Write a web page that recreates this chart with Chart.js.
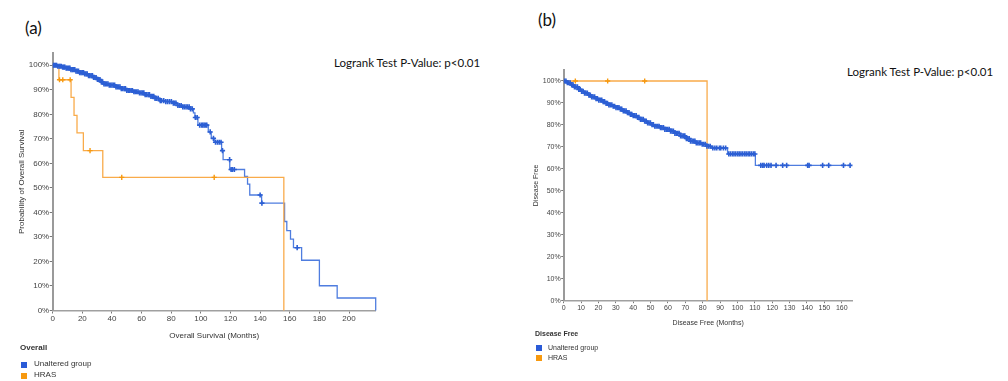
<!DOCTYPE html>
<html>
<head>
<meta charset="utf-8">
<script src="https://cdn.jsdelivr.net/npm/chart.js@4.4.1/dist/chart.umd.min.js"></script>
<style>
  body { margin: 0; background: #fff; width: 1008px; height: 381px; position: relative; overflow: hidden;
         font-family: "Liberation Sans", Arial, sans-serif; }
  canvas { position: absolute; }
  .tag { position: absolute; font-family: Lato, "Open Sans", sans-serif; font-size: 17px; line-height: 20px; color: #111; }
  .logrank { position: absolute; font-family: Lato, "Open Sans", sans-serif; font-size: 11.5px; line-height: 14px; color: #111; white-space: nowrap; }
  .leg { position: absolute; color: #333; white-space: nowrap; line-height: 10px; }
  .sq { position: absolute; width: 6px; height: 6px; }
</style>
</head>
<body>

<div class="tag" style="left:25px;top:18px">(a)</div>
<div class="tag" style="left:538px;top:10px">(b)</div>
<div class="logrank" style="left:334px;top:56px">Logrank Test P-Value: p&lt;0.01</div>
<div class="logrank" style="left:847px;top:65px">Logrank Test P-Value: p&lt;0.01</div>

<canvas id="os" width="390" height="310" style="left:0;top:40px"></canvas>
<canvas id="dfs" width="345" height="280" style="left:520px;top:55px"></canvas>

<!-- legends -->
<div class="leg" style="left:20px;top:343px;font-size:8px;font-weight:bold">Overall</div>
<div class="sq" style="left:21px;top:362px;background:#2a5bd7"></div>
<div class="leg" style="left:34px;top:359px;font-size:8px">Unaltered group</div>
<div class="sq" style="left:21px;top:373px;background:#f7990f"></div>
<div class="leg" style="left:34px;top:370px;font-size:8px">HRAS</div>

<div class="leg" style="left:535px;top:329px;font-size:7px;font-weight:bold">Disease Free</div>
<div class="sq" style="left:536px;top:345px;background:#2a5bd7"></div>
<div class="leg" style="left:548px;top:343px;font-size:7px">Unaltered group</div>
<div class="sq" style="left:536px;top:355px;background:#f7990f"></div>
<div class="leg" style="left:548px;top:353px;font-size:7px">HRAS</div>

<script>
// tick labels
const pctTicks = [0, 10, 20, 30, 40, 50, 60, 70, 80, 90, 100];
const osMonthTicks = [0, 20, 40, 60, 80, 100, 120, 140, 160, 180, 200];
const dfsMonthTicks = [0, 10, 20, 30, 40, 50, 60, 70, 80, 90, 100, 110, 120, 130, 140, 150, 160];

// (a) overall survival: [month, % surviving] at each step
const osUnalteredSteps = [[0, 100], [3, 99.6], [6, 99.2], [9, 98.8], [12, 98.2], [15, 97.6], [18, 97.0],
  [21, 96.5], [24, 95.8], [27, 95.0], [30, 94.2], [32, 93.2], [34, 92.4], [38, 91.9], [42, 91.2], [46, 90.5],
  [50, 89.7], [54, 89.2], [58, 88.7], [62, 88.0], [66, 87.3], [69, 86.5], [72, 85.6], [76, 85.2], [81, 84.6],
  [84, 83.6], [87, 83.0], [93, 82.2], [95, 80.6], [96, 78.7], [98, 75.6], [105, 72.8], [107, 70.2],
  [109, 68.6], [114, 65.2], [115, 61.5], [119.5, 57.5], [129.5, 54.7], [131.5, 51.5], [133, 47.1],
  [141, 43.8], [156.5, 36.3], [158, 32.6], [160.5, 29.1], [162.5, 25.6], [168, 20.5], [180, 10.1],
  [192, 5.1], [218, 0]];
const osUnalteredCensored = [0.4, 1.1, 1.9, 2.6, 3.4, 4.3, 5.0, 5.8, 6.7, 7.5, 8.2, 9.1, 9.9, 10.8, 11.6,
  12.3, 13.2, 14.0, 14.9, 15.7, 16.5, 17.4, 18.2, 19.1, 19.9, 20.8, 21.6, 22.5, 23.3, 24.2, 25.0, 25.9,
  26.8, 27.6, 28.5, 29.3, 30.2, 31.1, 31.9, 32.8, 33.7, 34.6, 35.5, 36.4, 37.3, 38.2, 39.1, 40.0, 40.9,
  41.8, 42.7, 43.6, 44.5, 45.4, 46.3, 47.2, 48.2, 49.1, 50.0, 51.0, 51.9, 52.9, 53.8, 54.8, 55.7, 56.7,
  57.6, 58.6, 59.6, 60.5, 61.5, 62.4, 63.4, 64.4, 65.3, 66.3, 67.2, 68.2, 69.1, 70.1, 71.2, 72.6, 73.4,
  74.9, 76.3, 77.5, 78.8, 80.1, 81.4, 82.3, 83.2, 84.5, 85.6, 86.7, 87.8, 88.9, 90.0, 91.0, 92.1, 93.0,
  94.2, 96.3, 97.5, 99.2, 100.4, 101.3, 102.2, 103.1, 104.0, 106.3, 108.5, 109.9, 111.2, 112.4, 113.6,
  114.6, 119.4, 120.4, 121.3, 122.6, 140.0, 141.2, 165.0];
const osHrasSteps = [[0, 100], [4.2, 94.1], [12.4, 86.9], [14.4, 79.6], [16.4, 72.4], [20.7, 65.2],
  [33.8, 54.3], [156, 0]];
const osHrasCensored = [4.6, 6.8, 11.8, 25.2, 46.6, 109.0];

// (b) disease free
const dfsUnalteredSteps = [[0, 100], [2, 99.2], [4, 98.2], [6, 97.3], [8, 96.2], [10, 95.3], [12, 94.5],
  [14, 93.6], [16, 92.8], [18, 92.0], [20, 91.3], [22, 90.6], [24, 89.8], [26, 89.1], [28, 88.5], [30, 87.9],
  [32, 87.2], [34, 86.4], [36, 85.6], [38, 84.8], [40, 84.2], [42, 83.4], [44, 82.5], [46, 81.7], [48, 80.9],
  [50, 80.1], [52, 79.4], [55, 78.8], [58, 78.0], [61, 77.2], [64, 76.2], [67, 75.0], [70, 73.8], [73, 72.6],
  [76, 71.8], [79, 71.2], [82, 70.3], [85, 69.5], [94.3, 66.8], [110.3, 61.6], [164.8, 61.6]];
const dfsUnalteredCensored = [0.5, 1.3, 2.1, 2.9, 3.7, 4.6, 5.4, 6.2, 7.0, 7.9, 8.7, 9.5, 10.3, 11.2, 12.0,
  12.8, 13.6, 14.5, 15.3, 16.1, 16.9, 17.8, 18.6, 19.4, 20.2, 21.1, 21.9, 22.7, 23.5, 24.4, 25.2, 26.0,
  26.8, 27.7, 28.5, 29.3, 30.1, 31.0, 31.8, 32.6, 33.4, 34.3, 35.1, 35.9, 36.7, 37.6, 38.4, 39.2, 40.0,
  40.9, 41.7, 42.5, 43.3, 44.2, 45.0, 45.8, 46.6, 47.5, 48.3, 49.1, 49.9, 50.8, 51.6, 52.4, 53.2, 54.1,
  54.9, 55.7, 56.5, 57.4, 58.2, 59.0, 59.8, 60.7, 61.5, 62.3, 63.1, 64.0, 64.8, 65.6, 66.4, 67.3, 68.1,
  68.9, 69.7, 70.6, 71.4, 72.2, 73.0, 73.9, 74.7, 75.5, 76.3, 77.2, 78.0, 78.8, 79.7, 80.6, 81.5, 82.4,
  83.4, 84.3, 85.8, 87.0, 88.1, 89.6, 90.4, 91.9, 93.2, 95.0, 96.0, 97.1, 98.0, 99.0, 100.1, 101.0, 102.0,
  103.0, 104.1, 105.0, 106.1, 107.0, 108.0, 109.1, 110.0, 113.4, 114.5, 115.3, 116.8, 118.0, 119.3, 122.2,
  126.0, 128.3, 140.4, 141.2, 149.0, 152.5, 161.0, 164.8];
const dfsHrasSteps = [[0, 100], [82.5, 0]];
const dfsHrasCensored = [6.7, 25.3, 46.6];

const BLUE = '#2c5fd4', BLUE_LINE = '#4f7ddf';
const ORANGE = '#f7990f', ORANGE_LINE = '#f9ab4a';

Chart.defaults.font.family = '"Liberation Sans", Arial, sans-serif';

// survival value of a step curve at time t (censor marks sit on the curve)
function survAt(steps, t) {
  let s = steps[0][1];
  for (const [time, val] of steps) {
    if (time <= t) s = val; else break;
  }
  return s;
}

function kmChart(id, o) {
  const toXY = arr => arr.map(p => ({ x: p[0], y: p[1] }));
  const marks = (times, steps) => times.map(t => ({ x: t, y: survAt(steps, t) }));
  const tickFont = { size: o.fontSize };

  return new Chart(document.getElementById(id), {
    type: 'line',
    data: {
      datasets: [
        { data: toXY(o.blueSteps), stepped: true, borderColor: BLUE_LINE, borderWidth: 1.3, pointRadius: 0, order: 4, clip: 3 },
        { data: toXY(o.orangeSteps), stepped: true, borderColor: ORANGE_LINE, borderWidth: 1.3, pointRadius: 0, order: 3, clip: 3 },
        { data: marks(o.blueCensor, o.blueSteps), showLine: false, pointStyle: 'cross', pointRadius: 2.6,
          borderColor: BLUE, borderWidth: 1.6, order: 2 },
        { data: marks(o.orangeCensor, o.orangeSteps), showLine: false, pointStyle: 'cross', pointRadius: 2.6,
          borderColor: ORANGE, borderWidth: 1.4, order: 1 }
      ]
    },
    options: {
      responsive: false,
      animation: false,
      events: [],
      layout: { padding: o.pad },
      plugins: { legend: { display: false }, tooltip: { enabled: false } },
      scales: {
        x: {
          type: 'linear', min: 0, max: o.xMax,
          afterBuildTicks: s => { s.ticks = o.xTicks.map(v => ({ value: v })); },
          afterFit: s => { s.height = o.xAxisH; },
          ticks: { font: tickFont, color: '#444', padding: 0.5, maxRotation: 0, autoSkip: false },
          grid: { drawOnChartArea: false, drawTicks: true, tickLength: o.tickLen, color: '#777' },
          border: { display: true, color: '#a0a0a0', width: 1.5 },
          title: { display: true, text: o.xTitle, font: tickFont, color: '#333', padding: { top: 0, bottom: o.xTitlePad } }
        },
        y: {
          type: 'linear', min: 0, max: 105,
          afterBuildTicks: s => { s.ticks = pctTicks.map(v => ({ value: v })); },
          afterFit: s => { s.width = o.yAxisW; },
          ticks: { font: tickFont, color: '#444', padding: 0.5, callback: v => v + '%' },
          grid: { drawOnChartArea: false, drawTicks: true, tickLength: o.tickLen, color: '#777' },
          border: { display: true, color: '#9a9a9a', width: 2 },
          title: { display: true, text: o.yTitle, font: tickFont, color: '#333', padding: { top: o.yTitlePad, bottom: 0 } }
        }
      }
    }
  });
}

kmChart('os', {
  blueSteps: osUnalteredSteps, blueCensor: osUnalteredCensored,
  orangeSteps: osHrasSteps, orangeCensor: osHrasCensored,
  xTicks: osMonthTicks, xMax: 218,
  xTitle: 'Overall Survival (Months)', yTitle: 'Probability of Overall Survival',
  fontSize: 8, tickLen: 3,
  pad: { left: 0, top: 13, right: 14.3, bottom: 0 },
  yAxisW: 52.7, xAxisH: 39.5, xTitlePad: 9, yTitlePad: 17
});

kmChart('dfs', {
  blueSteps: dfsUnalteredSteps, blueCensor: dfsUnalteredCensored,
  orangeSteps: dfsHrasSteps, orangeCensor: dfsHrasCensored,
  xTicks: dfsMonthTicks, xMax: 166.3,
  xTitle: 'Disease Free (Months)', yTitle: 'Disease Free',
  fontSize: 7, tickLen: 2.5,
  pad: { left: 0, top: 15, right: 12.3, bottom: 0 },
  yAxisW: 43.7, xAxisH: 34.3, xTitlePad: 8, yTitlePad: 11.8
});
</script>
</body>
</html>
